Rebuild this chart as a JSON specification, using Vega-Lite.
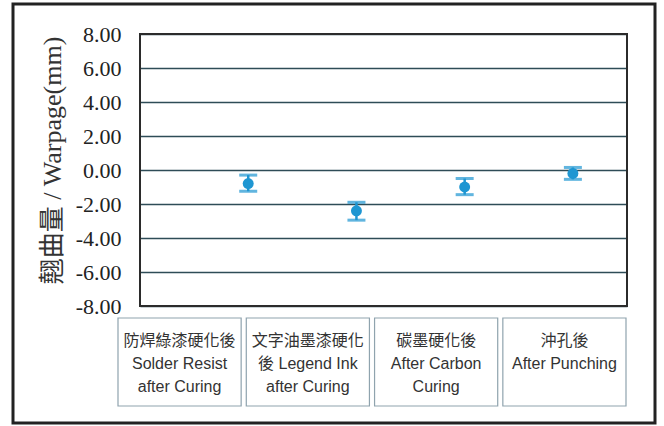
{
  "$schema": "https://vega.github.io/schema/vega-lite/v6.json",
  "width": 642,
  "height": 419,
  "autosize": "none",
  "padding": {"left": 13, "top": 4, "right": 9, "bottom": 3},
  "background": "white",
  "config": {"view": {"stroke": "#222222", "strokeWidth": 3}},
  "data": {
    "values": [
      {"cat": "Solder Resist after Curing", "pos": 1, "mean": -0.8, "lo": -1.25, "hi": -0.3, "label": "防焊綠漆硬化後\nSolder Resist\nafter Curing"},
      {"cat": "Legend Ink after Curing", "pos": 2, "mean": -2.4, "lo": -2.95, "hi": -1.9, "label": "文字油墨漆硬化\n後 Legend Ink\nafter Curing"},
      {"cat": "After Carbon Curing", "pos": 3, "mean": -1.0, "lo": -1.45, "hi": -0.5, "label": "碳墨硬化後\nAfter Carbon\nCuring"},
      {"cat": "After Punching", "pos": 4, "mean": -0.2, "lo": -0.55, "hi": 0.15, "label": "沖孔後\nAfter Punching"}
    ]
  },
  "layer": [
    {
      "layer": [
        {
          "mark": {"type": "rule", "color": "#1e96d2", "strokeWidth": 2.5},
          "encoding": {
            "x": {"field": "pos", "type": "quantitative", "scale": {"domain": [0, 4.5], "range": [127, 614], "nice": false, "zero": false}, "axis": null},
            "y": {
              "field": "lo", "type": "quantitative",
              "scale": {"domain": [-8, 8], "range": [302, 30], "nice": false, "zero": false},
              "axis": {
                "values": [-8, -6, -4, -2, 0, 2, 4, 6, 8],
                "labelExpr": "replace(format(datum.value, '.2f'), '\u2212', '-')",
                "labelFont": "Liberation Serif",
                "labelFontSize": 22,
                "labelColor": "#222222",
                "labelPadding": 19,
                "ticks": false,
                "tickSize": 0,
                "domain": false,
                "grid": true,
                "gridColor": "#2e4c57",
                "gridWidth": 1.5,
                "offset": -127,
                "title": "翹曲量 / Warpage(mm)",
                "titleFont": "Liberation Serif, Noto Sans CJK TC",
                "titleFontSize": 26,
                "titleFontWeight": "normal",
                "titleColor": "#333333",
                "titleAngle": -90,
                "titleX": -88,
                "titleY": 156,
                "titleAlign": "center",
                "titleBaseline": "middle"
              }
            },
            "y2": {"field": "hi"}
          }
        },
        {
          "mark": {"type": "tick", "orient": "horizontal", "color": "#1e96d2", "size": 18, "thickness": 3},
          "encoding": {
            "x": {"field": "pos", "type": "quantitative"},
            "y": {"field": "lo", "type": "quantitative"}
          }
        },
        {
          "mark": {"type": "tick", "orient": "horizontal", "color": "#1e96d2", "size": 18, "thickness": 3},
          "encoding": {
            "x": {"field": "pos", "type": "quantitative"},
            "y": {"field": "hi", "type": "quantitative"}
          }
        },
        {
          "mark": {"type": "point", "shape": "circle", "filled": true, "size": 120, "color": "#1e96d2", "opacity": 1},
          "encoding": {
            "x": {"field": "pos", "type": "quantitative"},
            "y": {"field": "mean", "type": "quantitative"}
          }
        },
        {
          "data": {"values": [{}]},
          "mark": {"type": "rect", "fill": null, "stroke": "#2b2b2b", "strokeWidth": 2},
          "encoding": {
            "x": {"datum": 0, "type": "quantitative"},
            "x2": {"datum": 4.5},
            "y": {"datum": -8, "type": "quantitative"},
            "y2": {"datum": 8}
          }
        }
      ]
    },
    {
      "layer": [
        {
          "mark": {"type": "rect", "fill": null, "stroke": "#8fa3ae", "strokeWidth": 1.2},
          "encoding": {
            "x": {"field": "cat", "type": "nominal", "sort": null, "scale": {"type": "band", "range": [105, 613], "paddingInner": 0.04, "paddingOuter": 0}, "axis": null},
            "y": {"datum": 0, "type": "quantitative", "scale": {"domain": [0, 1], "range": [402, 314], "nice": false, "zero": false}, "axis": null},
            "y2": {"datum": 1}
          }
        },
        {
          "mark": {"type": "text", "baseline": "top", "align": "center", "font": "Liberation Sans, Noto Sans CJK TC", "fontSize": 16, "lineHeight": 23, "lineBreak": "\n", "color": "#333333"},
          "encoding": {
            "x": {"field": "cat", "type": "nominal", "sort": null},
            "y": {"datum": 0.824, "type": "quantitative"},
            "text": {"field": "label", "type": "nominal"}
          }
        }
      ]
    }
  ],
  "resolve": {"scale": {"x": "independent", "y": "independent"}}
}
